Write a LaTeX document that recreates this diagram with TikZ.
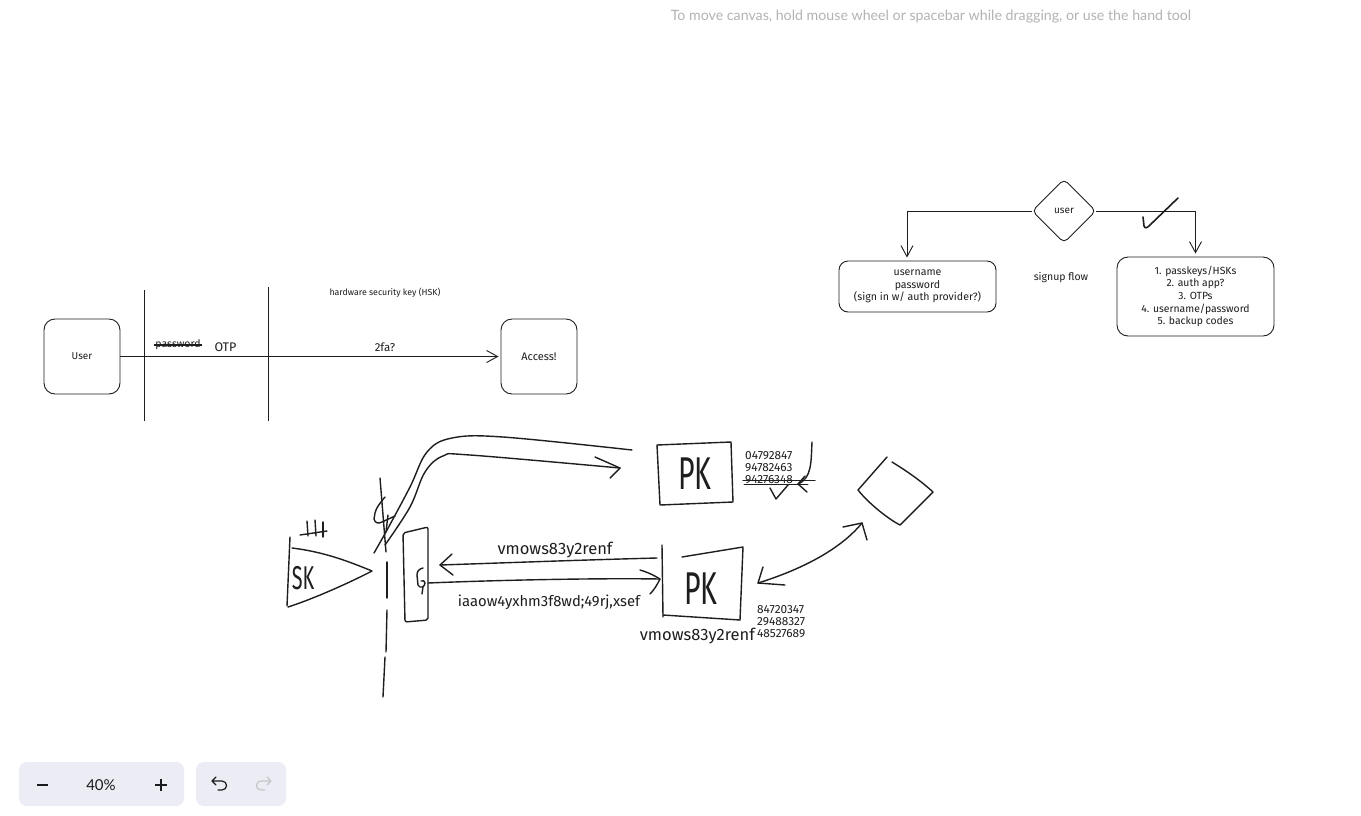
\documentclass[tikz,border=0pt]{standalone}
\usepackage{fontspec}
\setmainfont{Fira Sans}
\newfontfamily\uifont{Lato}
\usetikzlibrary{arrows.meta,shapes.geometric}
\definecolor{ink}{HTML}{1E1E1E}
\definecolor{hintc}{HTML}{B3B3B3}
\definecolor{panel}{HTML}{ECECF4}
\definecolor{uiink}{HTML}{1B1B1F}
\definecolor{uidim}{HTML}{C5C5CC}
\newcommand{\fsz}[2]{\fontsize{#1}{#2}\selectfont}
\newcommand{\bigpk}[1]{\scalebox{0.62}[1]{\fsz{46}{48}#1}}
\begin{document}
\begin{tikzpicture}[x=1pt,y=-1pt,
  line/.style={draw=ink,line width=0.9pt},
  hand/.style={draw=ink,line width=1.4pt,line cap=round,line join=round},
  barb/.style={-{Straight Barb[length=11pt,width=12pt]}},
  rbox/.style={draw=ink,line width=0.9pt,rounded corners=11pt,inner sep=0pt,text=ink,align=center},
  lbl/.style={text=ink,inner sep=0pt},
]
\useasboundingbox (0,0) rectangle (1361,815);
\fill[white] (0,0) rectangle (1361,815);

% top hint
\node[text=hintc,font=\uifont\fsz{14.2}{17},inner sep=0pt] (hint) at (931,17) {To move canvas, hold mouse wheel or spacebar while dragging, or use the hand tool};

% ---------- upper-left flow ----------
\node[rbox,minimum width=76pt,minimum height=75pt,font=\fsz{10}{12}] (user) at (82,356.5) {User};
\node[rbox,minimum width=76pt,minimum height=75pt,font=\fsz{11}{13}] (access) at (539,356.5) {Access!};
\draw[line,barb,shorten >=2pt] (user.east) -- (access.west);
\coordinate (v1t) at (144,290); \coordinate (v1b) at (144,421);
\coordinate (v2t) at (268,287); \coordinate (v2b) at (268,421);
\draw[line] (v1t) -- (v1b);
\draw[line] (v2t) -- (v2b);
\node[lbl,font=\fsz{10.5}{12}] (pw) at (178,345) {password};
\draw[line,line width=1.1pt] ([xshift=-1pt]pw.west) -- ([xshift=1pt]pw.east);
\node[lbl,font=\fsz{12.5}{14}] (otp) at (225.5,347) {OTP};
\node[lbl,font=\fsz{11.5}{13}] (tfa) at (385,347) {2fa?};
\node[lbl,font=\fsz{8.8}{10}] (hsk) at (385,293) {hardware security key (HSK)};

% ---------- signup flow ----------
\node[diamond,draw=ink,line width=0.9pt,minimum width=64pt,minimum height=64pt,inner sep=0pt,rounded corners=5pt,text=ink,font=\fsz{10}{12}] (duser) at (1064,211) {user};
\node[rbox,rounded corners=9pt,minimum width=157pt,minimum height=51pt,font=\fsz{10.6}{12.5}] (lbox) at (917.5,286.5) {username\\password\\(sign in w/ auth provider?)};
\node[rbox,rounded corners=11pt,minimum width=157pt,minimum height=79pt,font=\fsz{10.4}{12.6}] (rbox) at (1195.5,296.5) {1. passkeys/HSKs\\2. auth app?\\3. OTPs\\4. username/password\\5. backup codes};
\draw[line,barb,shorten >=3pt] (duser.west) -| ([xshift=-10.5pt]lbox.north);
\draw[line,barb,shorten >=3pt] (duser.east) -| (rbox.north);
\draw[hand,line width=1.6pt] (1143,217) -- (1144,226) .. controls (1145,229) and (1147,228) .. (1150,225) -- (1178,198);
\node[lbl,font=\fsz{10.5}{12}] (signup) at (1061,278) {signup flow};

% ---------- freehand sketch ----------
% dashed divider
\draw[hand] (380,478) -- (386,552);
\draw[hand] (387,562) -- (387,598);
\draw[hand] (387,610) -- (386,652);
\draw[hand] (385,657) -- (383,697);
% "4" mark
\draw[hand] (385,497) .. controls (380,503) and (376,508) .. (375,513) -- (374,519) .. controls (375,523) and (378,524) .. (382,522) -- (395,516);
\draw[hand] (388,515) -- (386,532);

% SK triangle
\draw[hand] (290,537) -- (287,606);
\draw[hand] (292,548) .. controls (325,552) and (350,562) .. (372,571) .. controls (345,585) and (310,600) .. (288,607);
\node[lbl] (sk) at (303,578) {\scalebox{0.6}[1]{\fsz{33}{36}SK}};
% tally
\draw[hand] (307,521) -- (308,536);
\draw[hand] (315,520) -- (316,536);
\draw[hand] (323,522) -- (323,537);
\draw[hand] (300,535) -- (327,531);

% G box
\draw[hand,rounded corners=2pt] (403,533) -- (428,527) -- (428,620) -- (405,622) -- cycle;
\draw[hand] (423,568) .. controls (419,569) and (417,571) .. (417,575) -- (418,585) .. controls (420,589) and (425,587) .. (425,583) .. controls (425,581) and (423,580) .. (421,581) (423,587) -- (422,594);
\coordinate (gtop) at (440,565);
\coordinate (gbot) at (428,583);

% PK1 box
\draw[hand] (657,445) -- (731,442) -- (733,502) -- (660,505) -- cycle;
\node[lbl] (pk1) at (695,474) {\bigpk{PK}};
\node[lbl,font=\fsz{11.8}{13},anchor=west] (n11) at (745,456) {04792847};
\node[lbl,font=\fsz{11.8}{13},anchor=west] (n12) at (745,468) {94782463};
\node[lbl,font=\fsz{11.8}{13},anchor=west] (n13) at (745,480) {94276348};
\draw[hand,line width=1.2pt] (743,480.5) -- (815,480.5);
\draw[hand,line width=0.9pt] (744,484) -- (808,484);
\draw[hand] (812,442) .. controls (811,462) and (812,478) .. (798,484);
\draw[hand] (805,476) -- (798,484) -- (807,492);
\draw[hand] (770,488) -- (776,499) -- (788,485);

% band arrow to PK1
\draw[hand] plot[smooth,tension=0.6] coordinates {(374,553) (387,530) (410,487) (427,452) (452,438) (503,437) (632,450)};
\draw[hand] plot[smooth,tension=0.6] coordinates {(385,545) (410,507) (425,472) (443,456) (470,455) (620,468)};
\draw[hand] (595,457) -- (620,468) -- (610,478);

% PK2 box
\draw[hand] (662,545) -- (663,617);
\draw[hand] (682,557) -- (743,547) -- (740,620);
\draw[hand] (663,615) -- (740,620);
\coordinate (pk2l) at (657,558);
\coordinate (pk2r) at (660,579);
\node[lbl] (pk2) at (701,589) {\bigpk{PK}};
\node[lbl,font=\fsz{11.8}{13},anchor=west] (n21) at (757,610) {84720347};
\node[lbl,font=\fsz{11.8}{13},anchor=west] (n22) at (757,622) {29488327};
\node[lbl,font=\fsz{11.8}{13},anchor=west] (n23) at (757,634) {48527689};
\node[lbl,font=\fsz{16.5}{18},anchor=east] (vm2) at (755,636) {vmows83y2renf};

% arrows between G and PK2
\draw[hand] (pk2l) .. controls (580,560) and (500,563) .. (gtop);
\draw[hand] (452,554) -- (gtop) -- (453,575);
\node[lbl,font=\fsz{16.5}{18}] (vm1) at (555,550) {vmows83y2renf};
\draw[hand] (gbot) .. controls (500,580) and (600,578) .. (pk2r);
\draw[hand] (640,570) .. controls (650,573) and (655,576) .. (pk2r) .. controls (657,585) and (654,590) .. (650,594);
\node[lbl,font=\fsz{14.8}{16}] (ia) at (549,602) {iaaow4yxhm3f8wd;49rj,xsef};

% freehand diamond
\draw[hand] (887,457) -- (858,490) .. controls (870,505) and (890,520) .. (900,525) -- (933,492) .. controls (920,480) and (905,470) .. (892,462);
% double arrow
\draw[hand] (758,583) .. controls (800,570) and (840,550) .. (862,523);
\draw[hand] (763,567) -- (758,583) -- (785,585);
\draw[hand] (843,527) -- (862,523) -- (867,540);

% ---------- UI ----------
\path[fill=panel,rounded corners=8pt] (19,762) rectangle (184,806);
\path[fill=panel,rounded corners=8pt] (196,762) rectangle (286,806);
\draw[uiink,line width=1.3pt] (37,785) -- (48,785);
\node[text=uiink,font=\uifont\fsz{15}{18},inner sep=0pt] (zoom) at (101,785) {40\%};
\draw[uiink,line width=1.3pt] (155,785) -- (167,785) (161,779) -- (161,791);
\draw[uiink,line width=1.2pt,line cap=round,line join=round] (216,777) -- (212,781) -- (216,785) (212,781) -- (222,781) .. controls (228,781) and (228,790) .. (222,790) -- (218,790);
\draw[uidim,line width=1.2pt,line cap=round,line join=round] (267,777) -- (271,781) -- (267,785) (271,781) -- (261,781) .. controls (255,781) and (255,790) .. (261,790) -- (265,790);
\end{tikzpicture}
\end{document}
